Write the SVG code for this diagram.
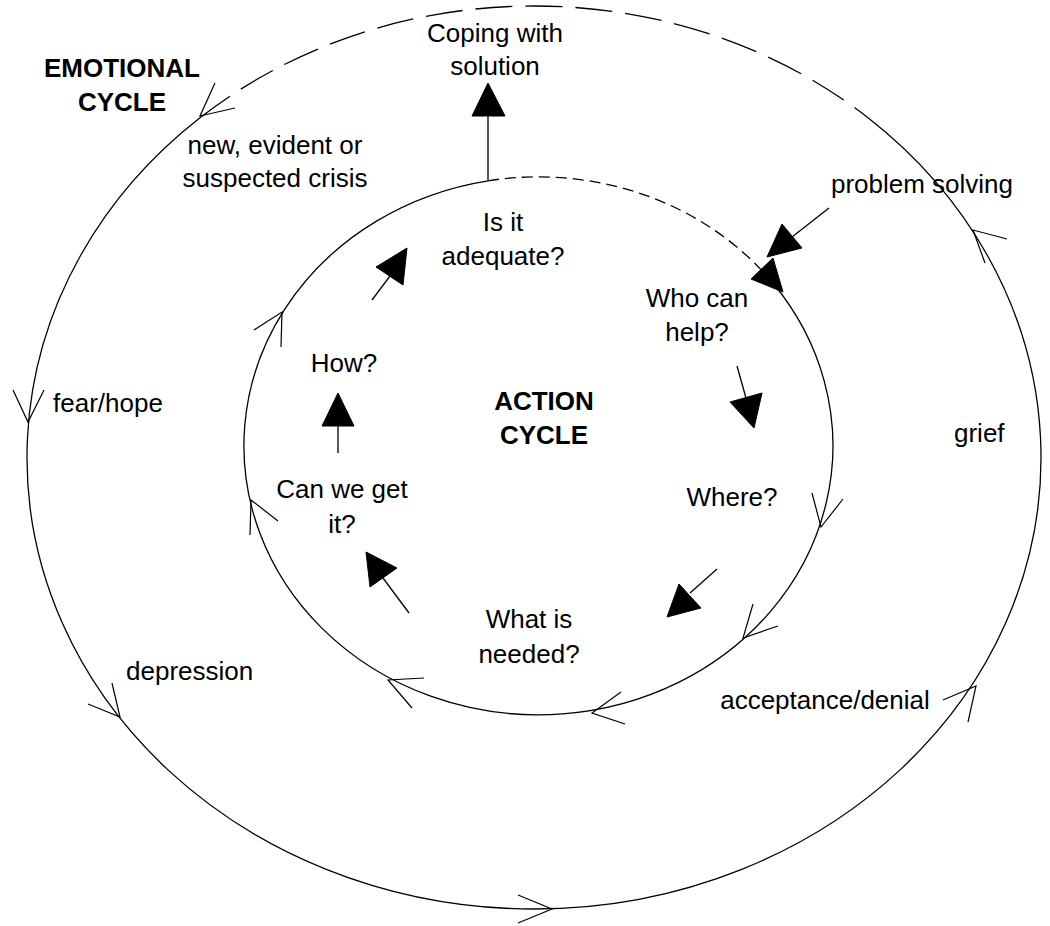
<svg xmlns="http://www.w3.org/2000/svg" width="1050" height="926" viewBox="0 0 1050 926">
  <style>
    .line { fill: none; stroke: #000; stroke-width: 1.3; }
    .outer-dash { stroke-dasharray: 37 13; }
    .inner-dash { stroke-dasharray: 11 6; }
    .chev { fill: none; stroke: #000; stroke-width: 1.2; stroke-linejoin: miter; }
    .head { fill: #000; stroke: #000; stroke-width: 1; stroke-linejoin: miter; }
    .lbl { font-family: "Liberation Sans", Arial, Helvetica, sans-serif; font-size: 26px; fill: #000; }
    .title { font-weight: bold; }
    .mid { text-anchor: middle; }
  </style>
  <rect width="1050" height="926" fill="#fff"/>

  <!-- Outer loop: emotional cycle -->
  <g id="emotional-cycle">
    <path class="line" d="M 868 117.8 A 507 451.5 0 1 1 200 117.8"/>
    <path class="line outer-dash" d="M 200 117.8 A 507 451.5 0 0 1 868 117.8"/>
    <!-- direction marks along the loop -->
    <path class="chev" d="M 215 83 L 200 116 L 235 108"/>
    <path class="chev" d="M 13 390 L 28 422 L 44 390"/>
    <path class="chev" d="M 88 704 L 120 717 L 112 683"/>
    <path class="chev" d="M 518 895 L 552 909 L 518 923"/>
    <path class="chev" d="M 943 700 L 976 686 L 968 722"/>
    <path class="chev" d="M 1007 239 L 973 230 L 985 263"/>
  </g>

  <!-- Inner loop: action cycle -->
  <g id="action-cycle">
    <path class="line" d="M 772 282 A 294.5 269 0 1 1 488 180.8"/>
    <path class="line inner-dash" d="M 488 180.8 A 294.5 269 0 0 1 772 282"/>
    <path class="chev" d="M 254 330 L 282 312 L 281 347"/>
    <path class="chev" d="M 250 535 L 251 500 L 278 521"/>
    <path class="chev" d="M 424 678 L 388 680 L 412 708"/>
    <path class="chev" d="M 621 692 L 592 713 L 625 724"/>
    <path class="chev" d="M 778 626 L 743 638 L 753 604"/>
    <path class="chev" d="M 812 493 L 821 527 L 843 499"/>
  </g>

  <!-- Labels -->
  <g id="label-emotional-cycle">
    <text class="lbl title mid" x="122" y="77">EMOTIONAL</text>
    <text class="lbl title mid" x="122" y="111">CYCLE</text>
  </g>
  <g id="label-action-cycle">
    <text class="lbl title mid" x="544" y="410">ACTION</text>
    <text class="lbl title mid" x="544" y="444">CYCLE</text>
  </g>
  <g id="coping">
    <text class="lbl mid" x="495" y="42">Coping with</text>
    <text class="lbl mid" x="495" y="75">solution</text>
  </g>
  <g id="crisis">
    <text class="lbl mid" x="275" y="154">new, evident or</text>
    <text class="lbl mid" x="275" y="187">suspected crisis</text>
  </g>
  <g id="problem-solving">
    <text class="lbl mid" x="922" y="193">problem solving</text>
  </g>
  <g id="adequate">
    <text class="lbl mid" x="503" y="231">Is it</text>
    <text class="lbl mid" x="503" y="265">adequate?</text>
  </g>
  <g id="who-can-help">
    <text class="lbl mid" x="697" y="307">Who can</text>
    <text class="lbl mid" x="697" y="341">help?</text>
  </g>
  <g id="how">
    <text class="lbl mid" x="344" y="372">How?</text>
  </g>
  <g id="fear-hope">
    <text class="lbl" x="53" y="412">fear/hope</text>
  </g>
  <g id="grief">
    <text class="lbl" x="954" y="442">grief</text>
  </g>
  <g id="can-we-get-it">
    <text class="lbl mid" x="342" y="498">Can we get</text>
    <text class="lbl mid" x="342" y="533">it?</text>
  </g>
  <g id="where">
    <text class="lbl mid" x="732" y="506">Where?</text>
  </g>
  <g id="what-is-needed">
    <text class="lbl mid" x="529" y="628">What is</text>
    <text class="lbl mid" x="529" y="663">needed?</text>
  </g>
  <g id="depression">
    <text class="lbl" x="126" y="680">depression</text>
  </g>
  <g id="acceptance-denial">
    <text class="lbl mid" x="825" y="709">acceptance/denial</text>
  </g>

  <!-- Connectors between steps -->
  <g id="connectors">
    <line class="line" x1="488" y1="180" x2="488" y2="116"/>
    <polygon class="head" points="488,83 472,116 505,116"/>

    <line class="line" x1="829" y1="208" x2="792" y2="237"/>
    <polygon class="head" points="767,257 782,224 802,248"/>

    <polygon class="head" points="783,292 773,258 751,279"/>

    <line class="line" x1="372" y1="300" x2="390" y2="276"/>
    <polygon class="head" points="407,248 376,267 403,285"/>

    <line class="line" x1="338" y1="453" x2="338" y2="426"/>
    <polygon class="head" points="338,393 322,426 354,426"/>

    <line class="line" x1="409" y1="613" x2="383" y2="578"/>
    <polygon class="head" points="366,552 397,568 370,587"/>

    <line class="line" x1="737" y1="366" x2="746" y2="398"/>
    <polygon class="head" points="754,428 730,402 762,393"/>

    <line class="line" x1="717" y1="569" x2="690" y2="593"/>
    <polygon class="head" points="667,617 679,584 701,608"/>
  </g>
</svg>
